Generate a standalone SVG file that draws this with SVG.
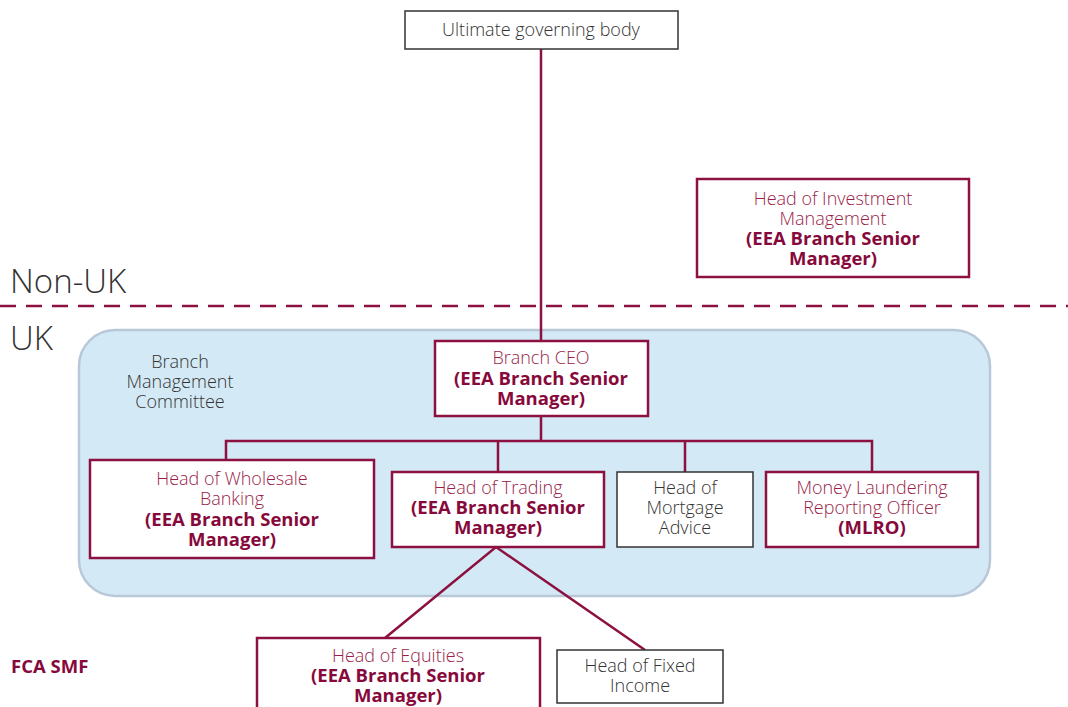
<svg xmlns="http://www.w3.org/2000/svg" width="1068" height="707" viewBox="0 0 1068 707">
<style>
text{font-family:"Open Sans","Noto Sans","Liberation Sans",sans-serif;font-size:18px;font-weight:300;text-anchor:middle}
.r{fill:#9a1d48}
.b{fill:#87093b;font-weight:bold;font-size:18.5px}
.g{fill:#333333}
.big{font-size:33px;text-anchor:start;fill:#333333}
.box{fill:#ffffff;stroke:#8c1040;stroke-width:2.5}
.kbox{fill:#ffffff;stroke:#333333;stroke-width:1.5}
.con{fill:none;stroke:#8c1040;stroke-width:2.5}
</style>
<rect x="79" y="330" width="911" height="266" rx="36" fill="#d3e9f5" stroke="#b8c8d8" stroke-width="2.5"/>
<line x1="0" y1="306" x2="1068" y2="306" stroke="#8c1040" stroke-width="2.5" stroke-dasharray="16 10"/>
<text class="big" x="10" y="293">Non-UK</text>
<text class="big" x="10" y="350">UK</text>
<text class="b" x="11" y="673" style="text-anchor:start;font-size:18.5px">FCA SMF</text>
<text class="g" x="180" y="368"><tspan x="180">Branch</tspan><tspan x="180" dy="20">Management</tspan><tspan x="180" dy="20">Committee</tspan></text>
<g id="connectors">
<line class="con" x1="541" y1="49" x2="541" y2="341"/>
<path class="con" d="M541 416V441M226 460V441H872V472M498 441V472M685 441V472"/>
<path class="con" d="M385 638L496 547L645 650"/>
</g>
<g id="ultimate">
<rect class="kbox" x="405" y="11" width="273" height="38"/>
<text class="g" x="541" y="36">Ultimate governing body</text>
</g>
<g id="investment">
<rect class="box" x="697" y="179" width="272" height="98"/>
<text x="833" y="205"><tspan class="r" x="833">Head of Investment</tspan><tspan class="r" x="833" dy="20">Management</tspan><tspan class="b" x="833" dy="20">(EEA Branch Senior</tspan><tspan class="b" x="833" dy="20">Manager)</tspan></text>
</g>
<g id="ceo">
<rect class="box" x="435" y="341" width="213" height="75"/>
<text x="541" y="364"><tspan class="r" x="541">Branch CEO</tspan><tspan class="b" x="541" dy="21">(EEA Branch Senior</tspan><tspan class="b" x="541" dy="20">Manager)</tspan></text>
</g>
<g id="wholesale">
<rect class="box" x="90" y="460" width="284" height="98"/>
<text x="232" y="485"><tspan class="r" x="232">Head of Wholesale</tspan><tspan class="r" x="232" dy="20">Banking</tspan><tspan class="b" x="232" dy="21">(EEA Branch Senior</tspan><tspan class="b" x="232" dy="20">Manager)</tspan></text>
</g>
<g id="trading">
<rect class="box" x="392" y="472" width="212" height="75"/>
<text x="498" y="494"><tspan class="r" x="498">Head of Trading</tspan><tspan class="b" x="498" dy="20">(EEA Branch Senior</tspan><tspan class="b" x="498" dy="20">Manager)</tspan></text>
</g>
<g id="mortgage">
<rect class="kbox" x="617" y="472" width="136" height="75"/>
<text class="g" x="685" y="494"><tspan x="685">Head of</tspan><tspan x="685" dy="20">Mortgage</tspan><tspan x="685" dy="20">Advice</tspan></text>
</g>
<g id="mlro">
<rect class="box" x="766" y="472" width="212" height="75"/>
<text x="872" y="494"><tspan class="r" x="872">Money Laundering</tspan><tspan class="r" x="872" dy="20">Reporting Officer</tspan><tspan class="b" x="872" dy="20">(MLRO)</tspan></text>
</g>
<g id="equities">
<rect class="box" x="257" y="638" width="283" height="80"/>
<text x="398" y="662"><tspan class="r" x="398">Head of Equities</tspan><tspan class="b" x="398" dy="20">(EEA Branch Senior</tspan><tspan class="b" x="398" dy="20">Manager)</tspan></text>
</g>
<g id="fixed">
<rect class="kbox" x="557" y="650" width="166" height="53"/>
<text class="g" x="640" y="672"><tspan x="640">Head of Fixed</tspan><tspan x="640" dy="20">Income</tspan></text>
</g>
</svg>
